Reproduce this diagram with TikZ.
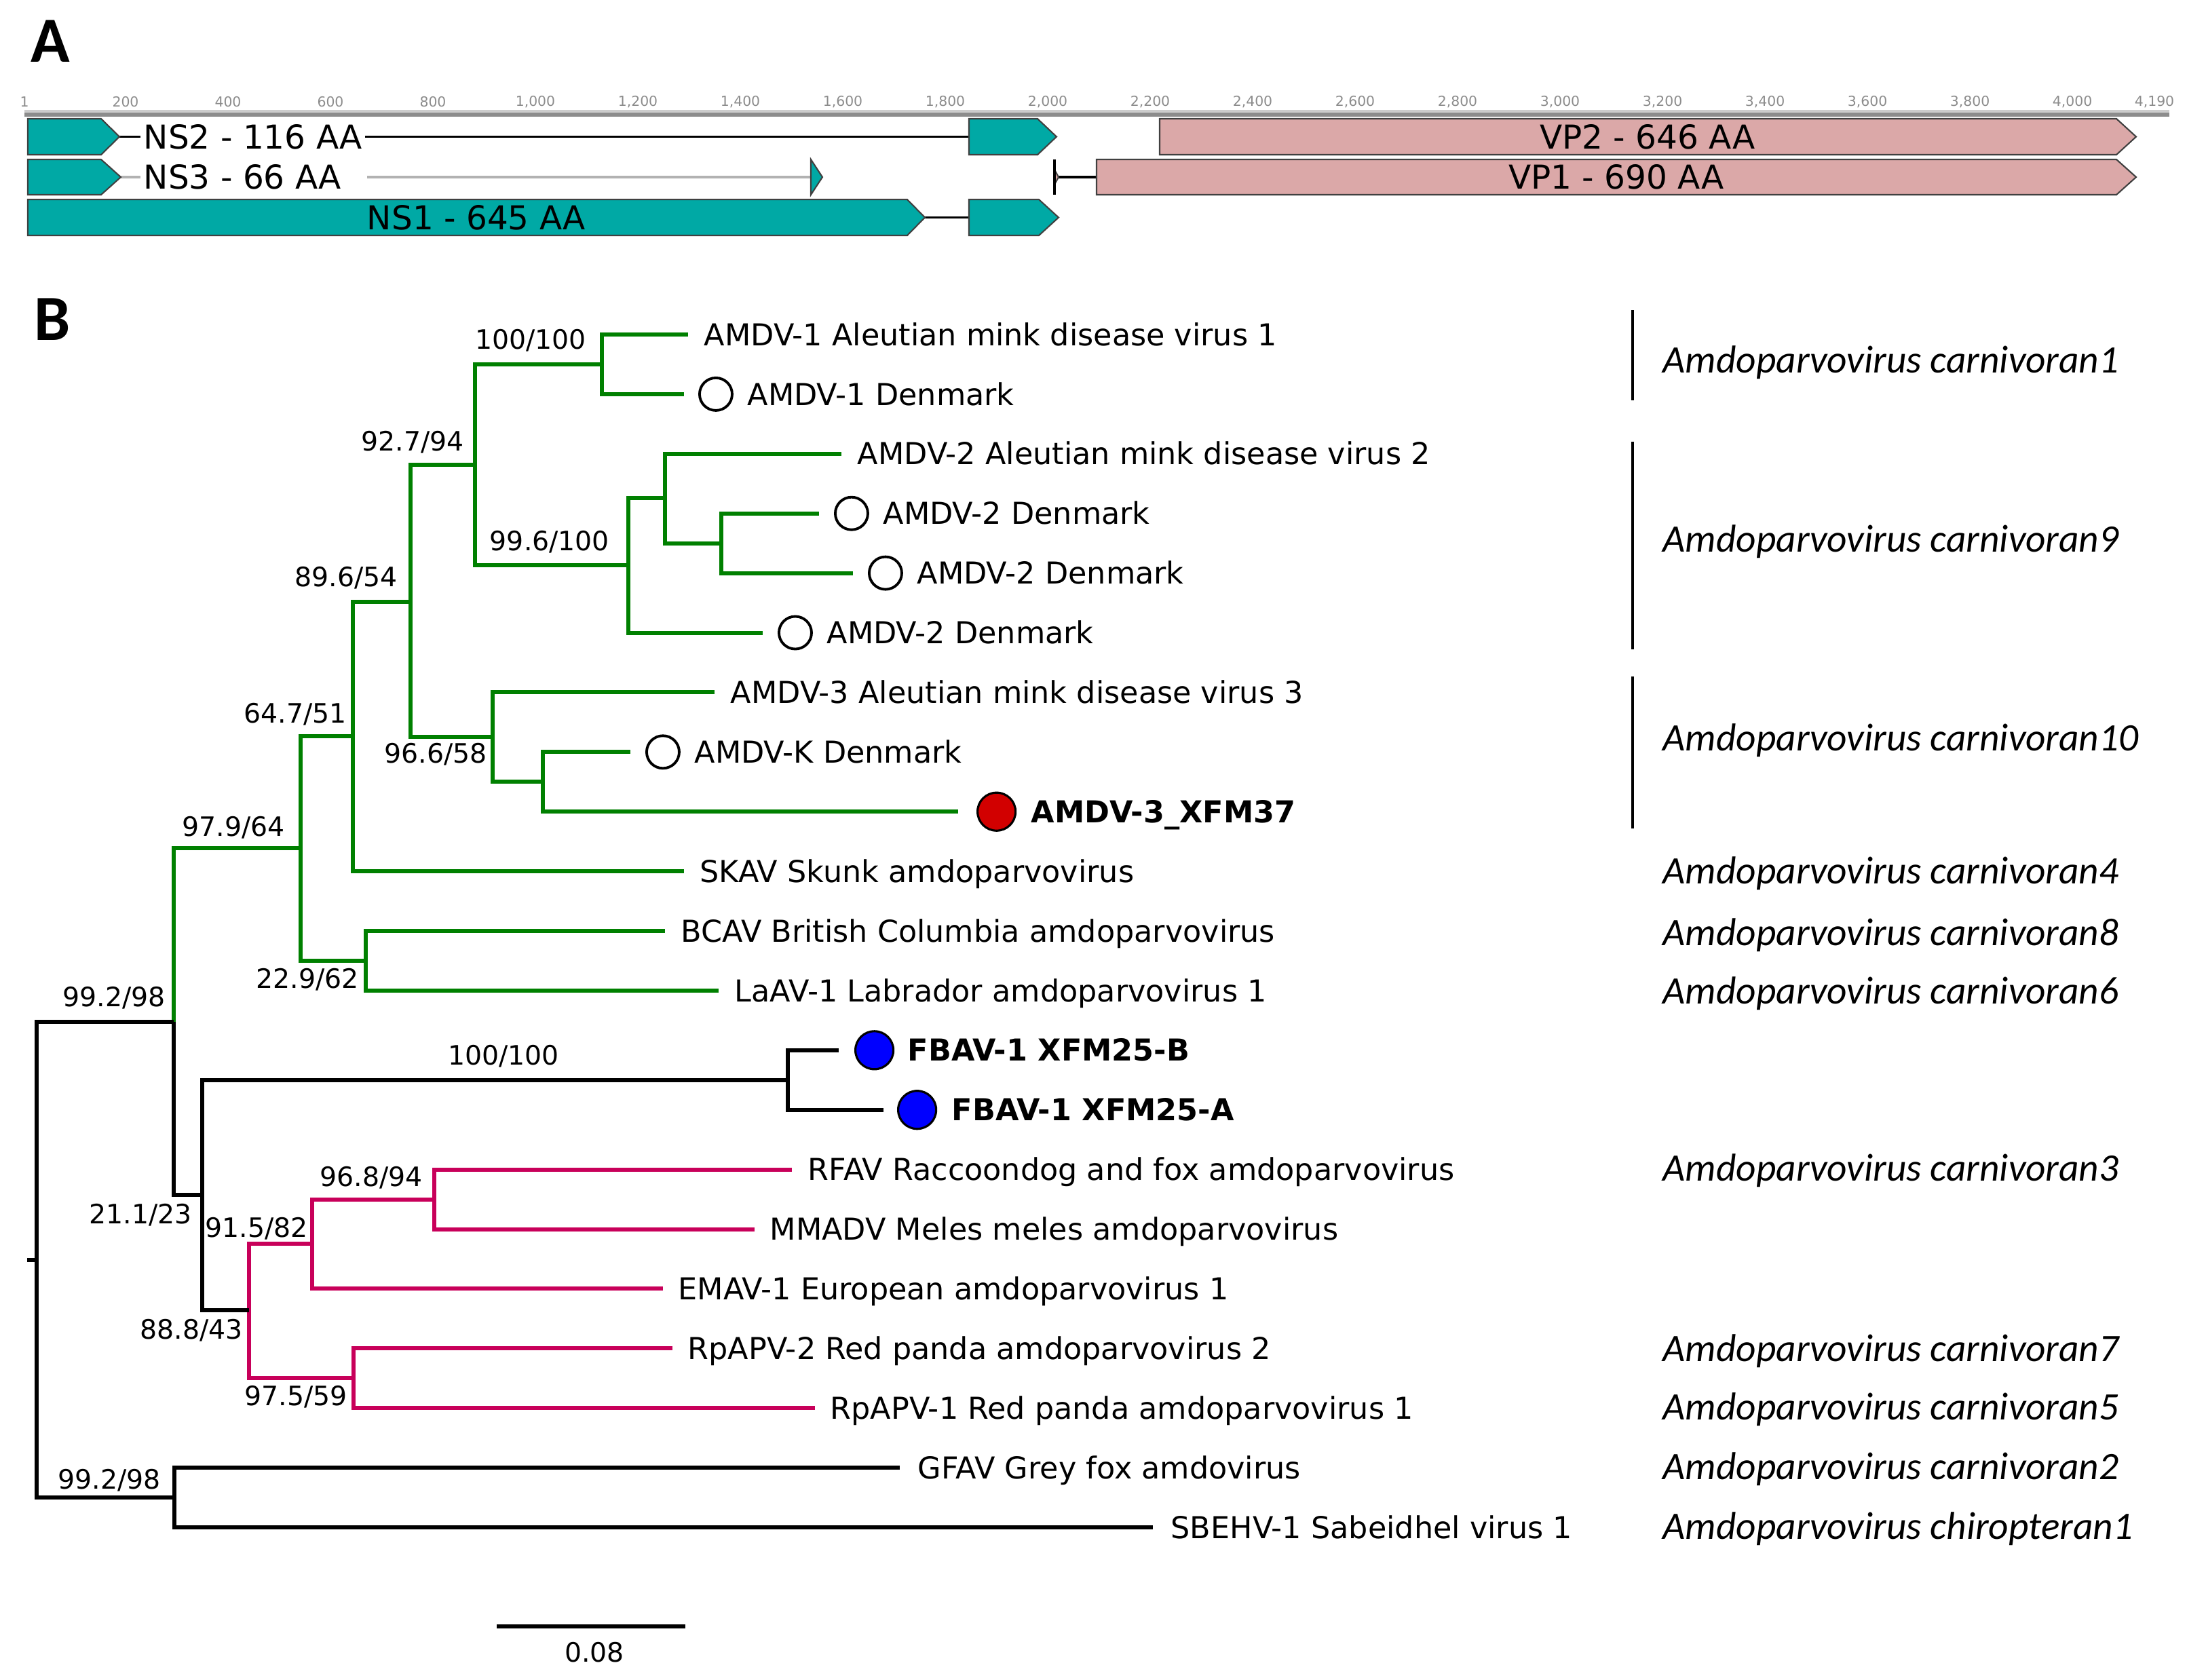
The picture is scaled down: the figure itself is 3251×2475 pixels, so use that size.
\documentclass[tikz,border=0pt]{standalone}
\usepackage{fontspec}
\setmainfont{DejaVu Sans}
\newfontfamily\speciesfont{Carlito}
\usetikzlibrary{positioning}
\definecolor{cladegreen}{RGB}{0,128,0}
\definecolor{cladepink}{RGB}{200,0,90}
\definecolor{nsteal}{RGB}{0,169,165}
\definecolor{vppink}{RGB}{219,168,168}
\definecolor{xfmred}{RGB}{210,0,0}
\tikzset{
  branch/.style={line width=1.7pt},
  tiplab/.style={anchor=west, inner sep=0pt, text height=9.2pt, text depth=0pt, font=\fontsize{12.65}{15}\selectfont},
  bootlab/.style={inner sep=0pt, text height=8.2pt, text depth=0pt, font=\fontsize{11.2}{13}\selectfont},
  speclab/.style={anchor=west, inner sep=0pt, text height=10.5pt, text depth=0pt, font=\speciesfont\itshape\fontsize{16.3}{19}\selectfont},
  opencirc/.style={circle, draw, line width=1.1pt, fill=white, minimum size=0.48cm, inner sep=0pt},
  fullcirc/.style={circle, draw, line width=0.9pt, minimum size=0.56cm, inner sep=0pt},
  gene/.style={draw=black!75, line width=0.6pt},
  genelab/.style={inner sep=0pt, text height=10pt, text depth=0pt, font=\fontsize{13.8}{16}\selectfont},
  ticklab/.style={text=black!45, inner sep=0pt, font=\fontsize{5.8}{7}\selectfont},
  panellab/.style={inner sep=0pt, font=\speciesfont\bfseries\fontsize{27}{30}\selectfont},
}
\begin{document}
\begin{tikzpicture}[x=0.01cm, y=-0.01cm]
    \useasboundingbox (0,0) rectangle (3251,2475);
    \node[panellab] (pa) at (74,61) {A};
    \node[panellab] (pb) at (77,471) {B};
    % genome map
    \fill[black!45] (36,163) rectangle (3197,172);
    \draw[black!20, line width=1pt] (36,164) -- (3197,164);
    \node[ticklab] at (36,150) {1};
    \foreach \n/\lab in {200/200,400/400,600/600,800/800,1000/{1,000},1200/{1,200},1400/{1,400},1600/{1,600},1800/{1,800},2000/{2,000},2200/{2,200},2400/{2,400},2600/{2,600},2800/{2,800},3000/{3,000},3200/{3,200},3400/{3,400},3600/{3,600},3800/{3,800},4000/{4,000}}
        \node[ticklab] at ({34+\n*0.755},150) {\lab};
    \node[ticklab] at (3175,150) {4,190};
    \draw[black, line width=1pt] (176,201.5) -- (207,201.5) (538,201.5) -- (1428,201.5);
    \draw[black!30, line width=1pt] (178,261) -- (207,261) (541,261) -- (1195,261);
    \draw[black, line width=1pt] (1363,320.5) -- (1428,320.5);
    \draw[black, line width=1pt] (1560,261) -- (1616,261);
    \filldraw[gene, fill=nsteal] (41,175) -- (149,175) -- (176,201.5) -- (149,228) -- (41,228) -- cycle;
    \filldraw[gene, fill=nsteal] (1428,175) -- (1529,175) -- (1557,201.5) -- (1529,228) -- (1428,228) -- cycle;
    \filldraw[gene, fill=nsteal] (41,235) -- (149,235) -- (178,261) -- (149,287) -- (41,287) -- cycle;
    \filldraw[gene, fill=nsteal] (1195,235) -- (1212,261) -- (1195,287) -- cycle;
    \filldraw[gene, fill=nsteal] (41,294) -- (1337,294) -- (1363,320.5) -- (1337,347) -- (41,347) -- cycle;
    \filldraw[gene, fill=nsteal] (1428,294) -- (1531,294) -- (1560,320.5) -- (1531,347) -- (1428,347) -- cycle;
    \filldraw[gene, fill=vppink] (1709,175) -- (3119,175) -- (3148,201.5) -- (3119,228) -- (1709,228) -- cycle;
    \filldraw[gene, fill=vppink] (1616,235) -- (3119,235) -- (3148,261) -- (3119,287) -- (1616,287) -- cycle;
    \filldraw[gene, fill=vppink] (1554,250) -- (1560,261) -- (1554,272) -- cycle;
    \draw[black, line width=1pt] (1554,235) -- (1554,287);
    \node[genelab, anchor=west] (ns2) at (211,201.5) {NS2 - 116 AA};
    \node[genelab, anchor=west] (ns3) at (211,261) {NS3 - 66 AA};
    \node[genelab] (ns1) at (702,320.5) {NS1 - 645 AA};
    \node[genelab] (vp2) at (2428,201.5) {VP2 - 646 AA};
    \node[genelab] (vp1) at (2382,261) {VP1 - 690 AA};
    % tree
    \coordinate (rootstub) at (40,1856.5);
    \coordinate (root) at (54,1856.5);
    \coordinate (nA) at (256,1506);
    \coordinate (nG) at (443,1250);
    \coordinate (nH) at (520,1085);
    \coordinate (nJ) at (605,887);
    \coordinate (nK) at (700,685);
    \coordinate (nM) at (887,537);
    \coordinate (nN) at (926,833);
    \coordinate (nO) at (980,734);
    \coordinate (nP) at (1063,800.7);
    \coordinate (nL) at (726,1086);
    \coordinate (nQ) at (800,1152.2);
    \coordinate (nI) at (539,1416);
    \coordinate (nB) at (298,1761);
    \coordinate (nF) at (1161,1591.7);
    \coordinate (nR) at (367,1931);
    \coordinate (nS) at (460,1833);
    \coordinate (nU) at (640,1767.5);
    \coordinate (nT) at (521,2031);
    \coordinate (nV) at (257,2207);
    \coordinate (t1) at (1014,493);
    \coordinate (t2) at (1008,580.9);
    \coordinate (t3) at (1240,668.8);
    \coordinate (t4) at (1207,756.7);
    \coordinate (t5) at (1257,844.6);
    \coordinate (t6) at (1124,932.5);
    \coordinate (t7) at (1053,1020.4);
    \coordinate (t8) at (929,1108.3);
    \coordinate (t9) at (1412,1196.2);
    \coordinate (t10) at (1008,1284.1);
    \coordinate (t11) at (980,1372);
    \coordinate (t12) at (1059,1459.9);
    \coordinate (t13) at (1236,1547.8);
    \coordinate (t14) at (1302,1635.7);
    \coordinate (t15) at (1167,1723.6);
    \coordinate (t16) at (1112,1811.5);
    \coordinate (t17) at (977,1899.4);
    \coordinate (t18) at (991,1987.3);
    \coordinate (t19) at (1201,2075.2);
    \coordinate (t20) at (1326,2163.1);
    \coordinate (t21) at (1699,2251);
    \draw[branch, cladegreen] (nA) |- (nG) (nG) |- (nH) (nG) |- (nI)
        (nH) |- (nJ) (nH) |- (t10) (nJ) |- (nK) (nJ) |- (nL)
        (nK) |- (nM) (nK) |- (nN) (nM) |- (t1) (nM) |- (t2)
        (nN) |- (nO) (nN) |- (t6) (nO) |- (t3) (nO) |- (nP)
        (nP) |- (t4) (nP) |- (t5) (nL) |- (t7) (nL) |- (nQ)
        (nQ) |- (t8) (nQ) |- (t9) (nI) |- (t11) (nI) |- (t12);
    \draw[branch, cladepink] (nR) |- (nS) (nR) |- (nT) (nS) |- (nU) (nS) |- (t17)
        (nU) |- (t15) (nU) |- (t16) (nT) |- (t18) (nT) |- (t19);
    \draw[branch] (rootstub) -- (root) (root) |- (nA) (root) |- (nV) (nA) |- (nB)
        (nB) |- (nF) (nB) |- (nR) (nF) |- (t13) (nF) |- (t14)
        (nV) |- (t20) (nV) |- (t21);
    % tip labels
    \node[tiplab, right=0.23cm of t1] (l1) {AMDV-1 Aleutian mink disease virus 1};
    \node[opencirc, right=0.21cm of t2] (c2) {};
    \node[tiplab, right=0.2cm of c2] (l2) {AMDV-1 Denmark};
    \node[tiplab, right=0.23cm of t3] (l3) {AMDV-2 Aleutian mink disease virus 2};
    \node[opencirc, right=0.22cm of t4] (c4) {};
    \node[tiplab, right=0.2cm of c4] (l4) {AMDV-2 Denmark};
    \node[opencirc, right=0.22cm of t5] (c5) {};
    \node[tiplab, right=0.2cm of c5] (l5) {AMDV-2 Denmark};
    \node[opencirc, right=0.22cm of t6] (c6) {};
    \node[tiplab, right=0.2cm of c6] (l6) {AMDV-2 Denmark};
    \node[tiplab, right=0.23cm of t7] (l7) {AMDV-3 Aleutian mink disease virus 3};
    \node[opencirc, right=0.22cm of t8] (c8) {};
    \node[tiplab, right=0.2cm of c8] (l8) {AMDV-K Denmark};
    \node[fullcirc, fill=xfmred, right=0.27cm of t9] (c9) {};
    \node[tiplab, right=0.21cm of c9] (l9) {\bfseries AMDV-3\_XFM37};
    \node[tiplab, right=0.23cm of t10] (l10) {SKAV Skunk amdoparvovirus};
    \node[tiplab, right=0.23cm of t11] (l11) {BCAV British Columbia amdoparvovirus};
    \node[tiplab, right=0.23cm of t12] (l12) {LaAV-1 Labrador amdoparvovirus 1};
    \node[fullcirc, fill=blue, right=0.23cm of t13] (c13) {};
    \node[tiplab, right=0.19cm of c13] (l13) {\bfseries FBAV-1 XFM25-B};
    \node[fullcirc, fill=blue, right=0.2cm of t14] (c14) {};
    \node[tiplab, right=0.21cm of c14] (l14) {\bfseries FBAV-1 XFM25-A};
    \node[tiplab, right=0.23cm of t15] (l15) {RFAV Raccoondog and fox amdoparvovirus};
    \node[tiplab, right=0.22cm of t16] (l16) {MMADV Meles meles amdoparvovirus};
    \node[tiplab, right=0.22cm of t17] (l17) {EMAV-1 European amdoparvovirus 1};
    \node[tiplab, right=0.22cm of t18] (l18) {RpAPV-2 Red panda amdoparvovirus 2};
    \node[tiplab, right=0.22cm of t19] (l19) {RpAPV-1 Red panda amdoparvovirus 1};
    \node[tiplab, right=0.26cm of t20] (l20) {GFAV Grey fox amdovirus};
    \node[tiplab, right=0.26cm of t21] (l21) {SBEHV-1 Sabeidhel virus 1};
    % support values
    \node[bootlab] at (782,500) {100/100};
    \node[bootlab] at (608,650) {92.7/94};
    \node[bootlab] at (510,850) {89.6/54};
    \node[bootlab] at (810,797) {99.6/100};
    \node[bootlab] at (435,1051) {64.7/51};
    \node[bootlab] at (642,1110) {96.6/58};
    \node[bootlab] at (344,1218) {97.9/64};
    \node[bootlab] at (453,1442) {22.9/62};
    \node[bootlab] at (168,1469) {99.2/98};
    \node[bootlab] at (742,1555) {100/100};
    \node[bootlab] at (207,1789) {21.1/23};
    \node[bootlab] at (378,1809) {91.5/82};
    \node[bootlab] at (547,1734) {96.8/94};
    \node[bootlab] at (282,1959) {88.8/43};
    \node[bootlab] at (436,2057) {97.5/59};
    \node[bootlab] at (161,2180) {99.2/98};
    % scale bar
    \coordinate (sba) at (732,2397);
    \coordinate (sbb) at (1010,2397);
    \draw[branch] (sba) -- (sbb);
    \node[bootlab] (sbl) at (876,2435) {0.08};
    % species
    \coordinate (bar1a) at (2406,457);
    \coordinate (bar1b) at (2406,590);
    \coordinate (bar2a) at (2406,651);
    \coordinate (bar2b) at (2406,957);
    \coordinate (bar3a) at (2406,997);
    \coordinate (bar3b) at (2406,1221);
    \draw[line width=1.3pt] (bar1a) -- (bar1b) (bar2a) -- (bar2b) (bar3a) -- (bar3b);
    \node[speclab] at (2450,531) {Amdoparvovirus carnivoran1};
    \node[speclab] at (2450,795) {Amdoparvovirus carnivoran9};
    \node[speclab] at (2450,1088) {Amdoparvovirus carnivoran10};
    \node[speclab] at (2450,1284) {Amdoparvovirus carnivoran4};
    \node[speclab] at (2450,1375) {Amdoparvovirus carnivoran8};
    \node[speclab] at (2450,1461) {Amdoparvovirus carnivoran6};
    \node[speclab] at (2450,1722) {Amdoparvovirus carnivoran3};
    \node[speclab] at (2450,1988) {Amdoparvovirus carnivoran7};
    \node[speclab] at (2450,2074) {Amdoparvovirus carnivoran5};
    \node[speclab] at (2450,2162) {Amdoparvovirus carnivoran2};
    \node[speclab] at (2450,2250) {Amdoparvovirus chiropteran1};
\end{tikzpicture}
\end{document}
